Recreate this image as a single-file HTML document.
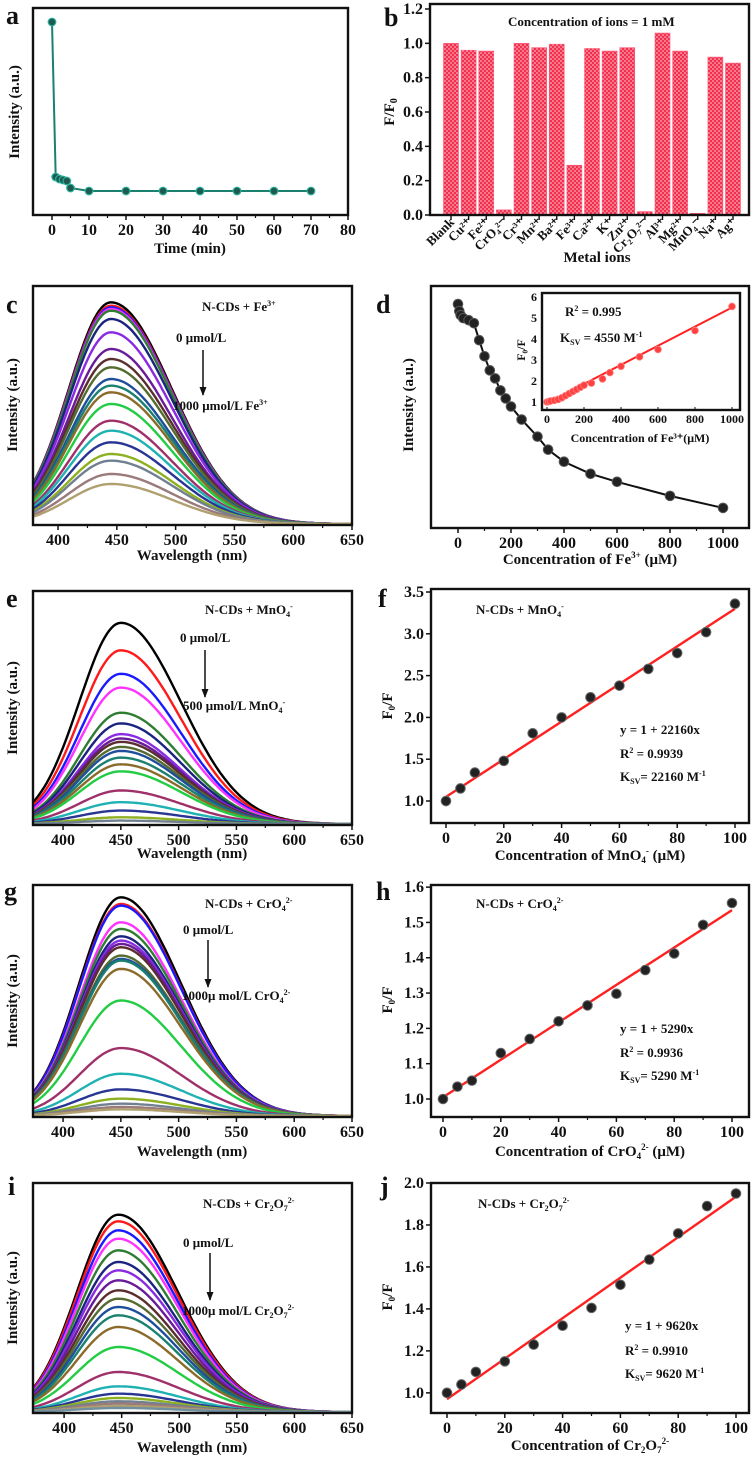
<!DOCTYPE html>
<html><head><meta charset="utf-8"><style>
html,body{margin:0;padding:0;background:#fff;}
svg{display:block;font-family:"Liberation Serif",serif;font-weight:bold;}
text,tspan{fill:#111;font-weight:bold;font-family:"Liberation Serif",serif;}
</style></head><body>
<svg id="fig" width="752" height="1464" viewBox="0 0 752 1464" xmlns="http://www.w3.org/2000/svg">
<defs>
<pattern id="dots" width="4" height="4" patternUnits="userSpaceOnUse"><rect width="4" height="4" fill="#f2304e"/><circle cx="1" cy="1" r="0.8" fill="#ffd0d8"/><circle cx="3" cy="3" r="0.8" fill="#ffd0d8"/></pattern>
<marker id="arrowhead" markerWidth="9" markerHeight="7" refX="8" refY="3.5" orient="auto" markerUnits="userSpaceOnUse"><path d="M0,0 L9,3.5 L0,7 Z" fill="#111"/></marker>
</defs>
<!-- panel letters -->
<g font-size="26">
<text x="6" y="24">a</text>
<text x="384" y="26">b</text>
<text x="6" y="313">c</text>
<text x="376" y="313">d</text>
<text x="6" y="607">e</text>
<text x="378" y="607">f</text>
<text x="4" y="900">g</text>
<text x="376" y="900">h</text>
<text x="8" y="1195">i</text>
<text x="380" y="1195">j</text>
</g>
<!-- axis titles -->
<g font-size="15">
<text x="0" y="0" transform="translate(19,112) rotate(-90)" text-anchor="middle">Intensity (a.u.)</text>
<text x="190" y="253" text-anchor="middle">Time (min)</text>
<text x="0" y="0" transform="translate(394,112) rotate(-90)" text-anchor="middle">F/F<tspan font-size="10" dy="3">0</tspan></text>
<text x="597" y="262" text-anchor="middle">Metal ions</text>
<text x="0" y="0" transform="translate(17,405) rotate(-90)" text-anchor="middle">Intensity (a.u.)</text>
<text x="192" y="560" text-anchor="middle">Wavelength (nm)</text>
<text x="0" y="0" transform="translate(413,405) rotate(-90)" text-anchor="middle">Intensity (a.u.)</text>
<text x="590" y="564" text-anchor="middle">Concentration of Fe<tspan font-size="9" dy="-6">3+</tspan><tspan dy="6"> (μM)</tspan></text>
<text x="0" y="0" transform="translate(17,708) rotate(-90)" text-anchor="middle">Intensity (a.u.)</text>
<text x="192" y="858" text-anchor="middle">Wavelength (nm)</text>
<text x="0" y="0" transform="translate(392,706) rotate(-90)" text-anchor="middle">F<tspan font-size="9" dy="3">0</tspan><tspan dy="-3">/F</tspan></text>
<text x="590" y="860" text-anchor="middle">Concentration of MnO<tspan font-size="9" dy="3">4</tspan><tspan font-size="9" dy="-9">-</tspan><tspan dy="6"> (μM)</tspan></text>
<text x="0" y="0" transform="translate(17,1001) rotate(-90)" text-anchor="middle">Intensity (a.u.)</text>
<text x="192" y="1156" text-anchor="middle">Wavelength (nm)</text>
<text x="0" y="0" transform="translate(392,1000) rotate(-90)" text-anchor="middle">F<tspan font-size="9" dy="3">0</tspan><tspan dy="-3">/F</tspan></text>
<text x="590" y="1156" text-anchor="middle">Concentration of CrO<tspan font-size="9" dy="3">4</tspan><tspan font-size="9" dy="-9">2-</tspan><tspan dy="6"> (μM)</tspan></text>
<text x="0" y="0" transform="translate(17,1298) rotate(-90)" text-anchor="middle">Intensity (a.u.)</text>
<text x="192" y="1452" text-anchor="middle">Wavelength (nm)</text>
<text x="0" y="0" transform="translate(392,1297) rotate(-90)" text-anchor="middle">F<tspan font-size="9" dy="3">0</tspan><tspan dy="-3">/F</tspan></text>
<text x="590" y="1450" text-anchor="middle">Concentration of  Cr<tspan font-size="9" dy="3">2</tspan><tspan dy="-3">O</tspan><tspan font-size="9" dy="3">7</tspan><tspan font-size="9" dy="-9">2-</tspan></text>
</g>
<!-- annotations -->
<g id="annotations" font-size="13">
<text x="508" y="26" font-size="13">Concentration of ions = 1 mM</text>
<text x="202" y="311">N-CDs + Fe<tspan font-size="8" dy="-5">3+</tspan></text>
<text x="176" y="342">0 μmol/L</text>
<line x1="203" y1="350" x2="203" y2="395" stroke="#111" stroke-width="1.5" marker-end="url(#arrowhead)"/>
<text x="173" y="410">1000 μmol/L Fe<tspan font-size="8" dy="-5">3+</tspan></text>
<text x="565" y="316">R<tspan font-size="8" dy="-5">2</tspan><tspan dy="5"> = 0.995</tspan></text>
<text x="560" y="342">K<tspan font-size="8" dy="3">SV</tspan><tspan dy="-3"> = 4550 M</tspan><tspan font-size="8" dy="-5">-1</tspan></text>
<text x="205" y="614">N-CDs + MnO<tspan font-size="8" dy="3">4</tspan><tspan font-size="8" dy="-8">-</tspan></text>
<text x="180" y="642">0 μmol/L</text>
<line x1="205" y1="650" x2="205" y2="697" stroke="#111" stroke-width="1.5" marker-end="url(#arrowhead)"/>
<text x="183" y="710">500 μmol/L MnO<tspan font-size="8" dy="3">4</tspan><tspan font-size="8" dy="-8">-</tspan></text>
<text x="476" y="614">N-CDs + MnO<tspan font-size="8" dy="3">4</tspan><tspan font-size="8" dy="-8">-</tspan></text>
<text x="620" y="734">y = 1 + 22160x</text>
<text x="620" y="758">R<tspan font-size="8" dy="-5">2</tspan><tspan dy="5"> = 0.9939</tspan></text>
<text x="620" y="781">K<tspan font-size="8" dy="3">SV</tspan><tspan dy="-3">= 22160 M</tspan><tspan font-size="8" dy="-5">-1</tspan></text>
<text x="205" y="908">N-CDs + CrO<tspan font-size="8" dy="3">4</tspan><tspan font-size="8" dy="-8">2-</tspan></text>
<text x="183" y="934">0 μmol/L</text>
<line x1="208" y1="940" x2="208" y2="987" stroke="#111" stroke-width="1.5" marker-end="url(#arrowhead)"/>
<text x="182" y="1000">1000μ mol/L CrO<tspan font-size="8" dy="3">4</tspan><tspan font-size="8" dy="-8">2-</tspan></text>
<text x="476" y="908">N-CDs + CrO<tspan font-size="8" dy="3">4</tspan><tspan font-size="8" dy="-8">2-</tspan></text>
<text x="620" y="1033">y = 1 + 5290x</text>
<text x="620" y="1057">R<tspan font-size="8" dy="-5">2</tspan><tspan dy="5"> = 0.9936</tspan></text>
<text x="620" y="1080">K<tspan font-size="8" dy="3">SV</tspan><tspan dy="-3">= 5290 M</tspan><tspan font-size="8" dy="-5">-1</tspan></text>
<text x="203" y="1208">N-CDs + Cr<tspan font-size="8" dy="3">2</tspan><tspan dy="-3">O</tspan><tspan font-size="8" dy="3">7</tspan><tspan font-size="8" dy="-8">2-</tspan></text>
<text x="183" y="1247">0 μmol/L</text>
<line x1="210" y1="1253" x2="210" y2="1300" stroke="#111" stroke-width="1.5" marker-end="url(#arrowhead)"/>
<text x="182" y="1315">1000μ mol/L Cr<tspan font-size="8" dy="3">2</tspan><tspan dy="-3">O</tspan><tspan font-size="8" dy="3">7</tspan><tspan font-size="8" dy="-8">2-</tspan></text>
<text x="478" y="1208">N-CDs + Cr<tspan font-size="8" dy="3">2</tspan><tspan dy="-3">O</tspan><tspan font-size="8" dy="3">7</tspan><tspan font-size="8" dy="-8">2-</tspan></text>
<text x="625" y="1330">y = 1 + 9620x</text>
<text x="625" y="1355">R<tspan font-size="8" dy="-5">2</tspan><tspan dy="5"> = 0.9910</tspan></text>
<text x="625" y="1378">K<tspan font-size="8" dy="3">SV</tspan><tspan dy="-3">= 9620 M</tspan><tspan font-size="8" dy="-5">-1</tspan></text>
</g>
</svg>
<script>
// ---- data ----
const aTimes=[0,1,2,3,4,5,10,20,30,40,50,60,70];
const aIntensity=[193,38,36,35,34,27,24,24,24,24,24,24,24];
const bIons=['Blank','Cu²⁺','Fe²⁺','CrO₄²⁻','Cr³⁺','Mn²⁺','Ba²⁺','Fe³⁺','Ca²⁺','K⁺','Zn²⁺','Cr₂O₇²⁻','Al³⁺','Mg²⁺','MnO₄⁻','Na⁺','Ag⁺'];
const bValues=[1.0,0.96,0.955,0.03,1.0,0.975,0.995,0.29,0.97,0.955,0.975,0.02,1.06,0.955,0.01,0.92,0.885];
const bTicks=[0,0.2,0.4,0.6,0.8,1.0,1.2];
const specColors=["#000000","#ff1a1a","#1a1aff","#ff33ff","#2e7d32","#1a237e","#8a2be2","#6a1b9a","#5a2e2e","#556b2f","#1f4e9a","#1a8070","#8b6b2a","#22cc44","#a0306a","#20b2b2","#283593","#8db020","#708090","#9a7a7a","#b0a070","#7090a0"];
const cPeaks=[665,655,650,645,640,615,575,525,495,470,435,415,395,360,310,280,245,210,190,150,120];
const ePeaks=[600,518,448,407,332,300,268,255,245,230,218,198,178,157,100,65,40,20,10];
const gPeaks=[657,637,632,582,562,540,527,517,507,482,472,467,442,347,204,127,80,52,37,27,20];
const iPeaks=[592,572,545,520,485,450,425,395,365,340,315,290,255,195,120,77,55,42,32,25,18,12];
const wlTicks=[400,450,500,550,600,650];
const dConc=[0,5,10,20,40,60,80,100,120,140,160,180,200,240,300,340,400,500,600,800,1000];
const dIntensity=[219,212,208,205,203,200,183,167,153,145,133,125,117,104,87,74,62,50,42,28,16];
const dTicks=[0,200,400,600,800,1000];
const insetConc=[0,10,20,40,60,80,100,120,140,160,180,200,240,300,340,400,500,600,800,1000];
const insetRatio=[1.0,1.02,1.05,1.08,1.12,1.2,1.3,1.4,1.5,1.6,1.7,1.8,1.9,2.1,2.4,2.7,3.15,3.5,4.4,5.55];
const insetYTicks=[1,2,3,4,5,6];
const insetXTicks=[0,200,400,600,800,1000];
const fitConc=[0,5,10,20,30,40,50,60,70,80,90,100];
const fRatio=[1.0,1.15,1.34,1.48,1.81,2.0,2.24,2.38,2.58,2.77,3.02,3.36];
const fFit=[1.05,3.3];
const fYTicks=[1.0,1.5,2.0,2.5,3.0,3.5];
const hRatio=[1.0,1.035,1.052,1.13,1.17,1.22,1.265,1.298,1.365,1.412,1.493,1.555];
const hFit=[1.005,1.535];
const hYTicks=[1.0,1.1,1.2,1.3,1.4,1.5,1.6];
const jRatio=[1.0,1.04,1.1,1.15,1.23,1.32,1.405,1.515,1.635,1.76,1.89,1.95];
const jFit=[0.97,1.935];
const jYTicks=[1.0,1.2,1.4,1.6,1.8,2.0];
const concTicks=[0,20,40,60,80,100];

const NS='http://www.w3.org/2000/svg';
const svg=document.getElementById('fig');
function mk(tag,attrs,parent){const e=document.createElementNS(NS,tag);for(const k in attrs)e.setAttribute(k,attrs[k]);(parent||svg).appendChild(e);return e;}
function lin(d0,d1,r0,r1){return v=>r0+(v-d0)*(r1-r0)/(d1-d0);}
function frame(x0,y0,x1,y1,name){const r=mk('rect',{x:x0,y:y0,width:x1-x0,height:y1-y0,fill:'none',stroke:'#111','stroke-width':2.4});

}
function xTicks(g,sx,ticks,yb,fmt,fs,minor){ticks.forEach(t=>{const l=mk('line',{x1:sx(t),x2:sx(t),y1:yb,y2:yb+5,stroke:'#111','stroke-width':1.5},g);


const tx=mk('text',{x:sx(t),y:yb+20,'text-anchor':'middle','font-size':fs||16},g);tx.textContent=fmt?fmt(t):t;

});
if(minor)for(let i=0;i<ticks.length-1;i++){const m=(ticks[i]+ticks[i+1])/2;const l=mk('line',{x1:sx(m),x2:sx(m),y1:yb,y2:yb+3,stroke:'#111','stroke-width':1.2},g);

}}
function yTicks(g,sy,ticks,xl,fmt,fs){ticks.forEach(t=>{const l=mk('line',{x1:xl-5,x2:xl,y1:sy(t),y2:sy(t),stroke:'#111','stroke-width':1.5},g);


const tx=mk('text',{x:xl-7,y:sy(t)+5,'text-anchor':'end','font-size':fs||16},g);tx.textContent=fmt(t);

});}

// ---- panel a ----
(function(){const g=mk('g',{});


const sx=lin(0,80,52,348), sy=lin(0,215,215,0);
frame(33,8,348,215,'a-plot-frame');
xTicks(g,sx,[0,10,20,30,40,50,60,70,80],215,null,16,true);
const p=mk('polyline',{points:aTimes.map((t,i)=>sx(t)+','+sy(aIntensity[i])).join(' '),fill:'none',stroke:'#1a8070','stroke-width':2},g);


aTimes.forEach((t,i)=>{const c=mk('circle',{cx:sx(t),cy:sy(aIntensity[i]),r:3.8,fill:'#1f5a50',stroke:'#2bb09a','stroke-width':1.2},g);

});})();

// ---- panel b ----
(function(){const g=mk('g',{});


const sy=lin(0,1.2,215,9); const x0=451,step=(733-451)/(bIons.length-1);
frame(430,4,749,215,'b-plot-frame');
yTicks(g,sy,bTicks,430,v=>v.toFixed(1),16);
bIons.forEach((n,i)=>{const cx=x0+i*step;const b=mk('rect',{x:cx-7.5,y:sy(bValues[i]),width:15,height:215-sy(bValues[i]),fill:'url(#dots)',stroke:'#ff6080','stroke-width':0.6},g);


const l=mk('line',{x1:cx,x2:cx,y1:215,y2:220,stroke:'#111','stroke-width':1.4},g);


const t=mk('text',{x:0,y:0,transform:'translate('+(cx+4)+',223) rotate(-45)','text-anchor':'end','font-size':13},g);t.textContent=n;

});})();

// ---- spectra panels ----
function spectra(name,peaks,y0,y1,wl0,top,pk){const g=mk('g',{});


const sx=lin(wl0,650,33,352), sy=lin(0,top,y1,y0);
const clip=mk('clipPath',{id:name+'-clip'},g);mk('rect',{x:33,y:y0,width:319,height:y1-y0},clip);
const cg=mk('g',{'clip-path':'url(#'+name+'-clip)'},g);
peaks.forEach((h,k)=>{const pts=[];for(let w=wl0;w<=652;w+=2){const s=w<pk?36:52;pts.push(sx(w).toFixed(1)+','+sy(h*Math.exp(-(w-pk)*(w-pk)/(2*s*s))+3).toFixed(1));}
const p=mk('polyline',{points:pts.join(' '),fill:'none',stroke:specColors[k%specColors.length],'stroke-width':2.4},cg);

});
frame(33,y0,352,y1,name+'-frame');
xTicks(g,sx,wlTicks,y1,null,16,true);}
spectra('panel-c-fe-spectra',cPeaks,286,525,378.7,717,445);
spectra('panel-e-mno4-spectra',ePeaks,591,825,374,698,450);
spectra('panel-g-cro4-spectra',gPeaks,885,1117,374,697,450);
spectra('panel-i-cr2o7-spectra',iPeaks,1183,1413,373,690,447);

// ---- panel d ----
(function(){const g=mk('g',{});


const sx=lin(0,1000,458,723), sy=lin(-4,237,528,286);
frame(431,286,749,528,'d-plot-frame');
xTicks(g,sx,dTicks,528,null,16,true);
const p=mk('polyline',{points:dConc.map((c,i)=>sx(c)+','+sy(dIntensity[i])).join(' '),fill:'none',stroke:'#111','stroke-width':2},g);


dConc.forEach((c,i)=>{const e=mk('circle',{cx:sx(c),cy:sy(dIntensity[i]),r:4.8,fill:'#222',stroke:'#555','stroke-width':1},g);

});
// inset
const ix=lin(0,1000,547,732), iy=lin(1,6,402,297);
const ig=mk('g',{},g);


const bg=mk('rect',{x:542,y:293,width:198,height:117,fill:'#fff'},ig);


frame(542,293,740,410,'d-inset-frame');
insetXTicks.forEach(t=>{const tx=mk('text',{x:ix(t),y:423,'text-anchor':'middle','font-size':12},ig);tx.textContent=t;


const l=mk('line',{x1:ix(t),x2:ix(t),y1:410,y2:407,stroke:'#111'},ig);

});
insetYTicks.forEach(t=>{const tx=mk('text',{x:537,y:iy(t)+4,'text-anchor':'end','font-size':12},ig);tx.textContent=t;

});
const it=mk('text',{x:640,y:442,'text-anchor':'middle','font-size':12},ig);it.textContent='Concentration of Fe³⁺(μM)';


const iyt=mk('text',{x:0,y:0,transform:'translate(525,350) rotate(-90)','text-anchor':'middle','font-size':12},ig);iyt.textContent='F₀/F';


const fl=mk('line',{x1:ix(0),y1:iy(0.95),x2:ix(1000),y2:iy(5.5),stroke:'#ff2020','stroke-width':2},ig);


insetConc.forEach((c,i)=>{const e=mk('circle',{cx:ix(c),cy:iy(insetRatio[i]),r:3.4,fill:'#ff4040',stroke:'#ff8080','stroke-width':0.8},ig);

});})();

// ---- linear fit panels ----
function fitPanel(name,ratio,fit,ticks,y0,y1,yd0,yd1,x0px,x100px){const g=mk('g',{});


const sx=lin(0,100,x0px,x100px), sy=lin(yd0,yd1,y1,y0);
frame(431,y0,749,y1,name+'-frame');
xTicks(g,sx,concTicks,y1,null,16,true);
yTicks(g,sy,ticks,431,v=>v.toFixed(1),16);
const l=mk('line',{x1:sx(0),y1:sy(fit[0]),x2:sx(100),y2:sy(fit[1]),stroke:'#ff2020','stroke-width':2.4},g);


fitConc.forEach((c,i)=>{const e=mk('circle',{cx:sx(c),cy:sy(ratio[i]),r:4.8,fill:'#222',stroke:'#666','stroke-width':1},g);

});}
fitPanel('panel-f-mno4-fit',fRatio,fFit,fYTicks,589,823,0.737,3.536,446,735);
fitPanel('panel-h-cro4-fit',hRatio,hFit,hYTicks,885,1117,0.949,1.606,443,732);
fitPanel('panel-j-cr2o7-fit',jRatio,jFit,jYTicks,1183,1413,0.904,2.0,447,736);
// bring annotations on top of drawn marks
svg.appendChild(document.getElementById('annotations'));
</script>
</body></html>
